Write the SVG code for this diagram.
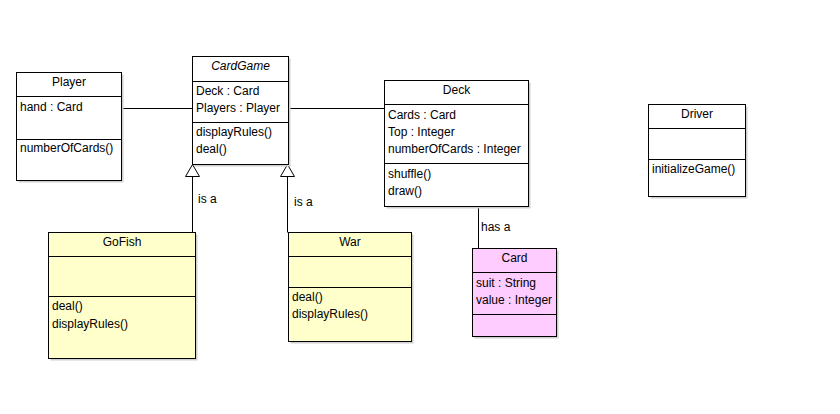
<svg xmlns="http://www.w3.org/2000/svg" width="840" height="414" viewBox="0 0 840 414">
<style>
  text { font-family: "Liberation Sans", Arial, sans-serif; font-size: 12px; fill: #000; }
  .t { text-anchor: middle; }
  .i { font-style: italic; }
  .box { stroke: #000; stroke-width: 1; }
  .w { fill: #ffffff; }
  .y { fill: #ffffcc; }
  .p { fill: #ffccff; }
  .sh { fill: #cfcfcf; }
  .ln { stroke: #000; stroke-width: 1; fill: none; }
  .tri { stroke: #000; stroke-width: 1; fill: #fff; }
</style>
<rect width="840" height="414" fill="#fff"/>

<g id="connectors">
  <line class="ln" x1="121.5" y1="108.5" x2="192.5" y2="108.5"/>
  <line class="ln" x1="288.5" y1="108.5" x2="384.5" y2="108.5"/>
  <line class="ln" x1="192.5" y1="176.5" x2="192.5" y2="232.5"/>
  <polygon class="tri" points="192.5,164.5 185.5,176.5 199.5,176.5"/>
  <line class="ln" x1="287.5" y1="176.5" x2="287.5" y2="232.5"/>
  <polygon class="tri" points="287.5,164.5 280.5,176.5 294.5,176.5"/>
  <line class="ln" x1="478.5" y1="206.5" x2="478.5" y2="248.5"/>
  <text x="198" y="203">is a</text>
  <text x="294" y="206">is a</text>
  <text x="481" y="231">has a</text>
</g>

<g id="Player">
  <rect class="sh" x="18.5" y="74.5" width="105" height="108"/>
  <rect class="box w" x="16.5" y="72.5" width="105" height="108"/>
  <line class="ln" x1="16.5" y1="96.5" x2="121.5" y2="96.5"/>
  <line class="ln" x1="16.5" y1="139.5" x2="121.5" y2="139.5"/>
  <text class="t" x="69" y="86">Player</text>
  <text x="20" y="111">hand : Card</text>
  <text x="20" y="152">numberOfCards()</text>
</g>

<g id="CardGame">
  <rect class="sh" x="194.5" y="58.5" width="96" height="108"/>
  <rect class="box w" x="192.5" y="56.5" width="96" height="108"/>
  <line class="ln" x1="192.5" y1="81.5" x2="288.5" y2="81.5"/>
  <line class="ln" x1="192.5" y1="122.5" x2="288.5" y2="122.5"/>
  <text class="t i" x="240.5" y="70">CardGame</text>
  <text x="196" y="95">Deck : Card</text>
  <text x="196" y="112">Players : Player</text>
  <text x="196" y="136">displayRules()</text>
  <text x="196" y="153">deal()</text>
</g>

<g id="Deck">
  <rect class="sh" x="386.5" y="82.5" width="144" height="126"/>
  <rect class="box w" x="384.5" y="80.5" width="144" height="126"/>
  <line class="ln" x1="384.5" y1="104.5" x2="528.5" y2="104.5"/>
  <line class="ln" x1="384.5" y1="163.5" x2="528.5" y2="163.5"/>
  <text class="t" x="456.5" y="94">Deck</text>
  <text x="388" y="119">Cards : Card</text>
  <text x="388" y="136">Top : Integer</text>
  <text x="388" y="153">numberOfCards : Integer</text>
  <text x="388" y="178">shuffle()</text>
  <text x="388" y="195">draw()</text>
</g>

<g id="Card">
  <rect class="sh" x="474.5" y="250.5" width="84" height="88"/>
  <rect class="box p" x="472.5" y="248.5" width="84" height="88"/>
  <line class="ln" x1="472.5" y1="272.5" x2="556.5" y2="272.5"/>
  <line class="ln" x1="472.5" y1="314.5" x2="556.5" y2="314.5"/>
  <text class="t" x="514.5" y="262">Card</text>
  <text x="476" y="287">suit : String</text>
  <text x="476" y="304">value : Integer</text>
</g>

<g id="GoFish">
  <rect class="sh" x="50.5" y="234.5" width="147" height="126"/>
  <rect class="box y" x="48.5" y="232.5" width="147" height="126"/>
  <line class="ln" x1="48.5" y1="256.5" x2="195.5" y2="256.5"/>
  <line class="ln" x1="48.5" y1="296.5" x2="195.5" y2="296.5"/>
  <text class="t" x="122" y="246">GoFish</text>
  <text x="52" y="310">deal()</text>
  <text x="52" y="328">displayRules()</text>
</g>

<g id="War">
  <rect class="sh" x="290.5" y="234.5" width="123" height="109"/>
  <rect class="box y" x="288.5" y="232.5" width="123" height="109"/>
  <line class="ln" x1="288.5" y1="256.5" x2="411.5" y2="256.5"/>
  <line class="ln" x1="288.5" y1="287.5" x2="411.5" y2="287.5"/>
  <text class="t" x="350" y="246">War</text>
  <text x="292" y="301">deal()</text>
  <text x="292" y="318">displayRules()</text>
</g>

<g id="Driver">
  <rect class="sh" x="650.5" y="106.5" width="97" height="92"/>
  <rect class="box w" x="648.5" y="104.5" width="97" height="92"/>
  <line class="ln" x1="648.5" y1="128.5" x2="745.5" y2="128.5"/>
  <line class="ln" x1="648.5" y1="159.5" x2="745.5" y2="159.5"/>
  <text class="t" x="697" y="118">Driver</text>
  <text x="652" y="173">initializeGame()</text>
</g>
</svg>
